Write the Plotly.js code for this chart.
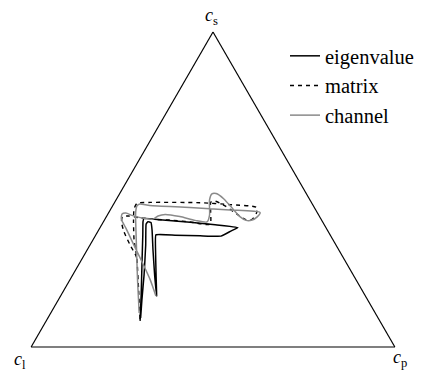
<!DOCTYPE html>
<html>
<head>
<meta charset="utf-8">
<script src="https://cdn.plot.ly/plotly-3.0.1.min.js"></script>
<style>
  html, body { margin: 0; padding: 0; background: #fff; }
  #chart { width: 422px; height: 373px; }
</style>
</head>
<body>
<div id="chart"></div>
<script>
// Westin shape measures (c_s spherical, c_l linear, c_p planar) along three trajectories.

// eigenvalue interpolation
const eigCs = [0.083, 0.165, 0.276, 0.356, 0.397, 0.408, 0.404, 0.396, 0.388, 0.379, 0.368, 0.352, 0.353, 0.355,
               0.356, 0.308, 0.229, 0.162, 0.229, 0.308, 0.371, 0.395, 0.398, 0.390, 0.324, 0.229, 0.149, 0.092];
const eigCl = [0.659, 0.615, 0.557, 0.515, 0.494, 0.486, 0.444, 0.365, 0.300, 0.242, 0.267, 0.302, 0.359, 0.427,
               0.479, 0.504, 0.542, 0.574, 0.546, 0.511, 0.482, 0.473, 0.480, 0.489, 0.523, 0.575, 0.621, 0.653];
const eigCp = [0.258, 0.220, 0.167, 0.129, 0.109, 0.106, 0.152, 0.239, 0.312, 0.379, 0.365, 0.346, 0.288, 0.218,
               0.165, 0.188, 0.229, 0.264, 0.225, 0.181, 0.147, 0.132, 0.122, 0.121, 0.153, 0.196, 0.230, 0.255];

// matrix interpolation
const matCs = [0.089, 0.181, 0.283, 0.340, 0.403, 0.438, 0.456, 0.459, 0.458, 0.452, 0.443, 0.425, 0.405, 0.405,
               0.422, 0.448, 0.463, 0.460, 0.429, 0.390, 0.397, 0.403, 0.405, 0.410, 0.416, 0.414, 0.397, 0.365,
               0.324, 0.289, 0.270];
const matCl = [0.656, 0.614, 0.568, 0.547, 0.517, 0.498, 0.481, 0.443, 0.307, 0.227, 0.158, 0.168, 0.190, 0.209,
               0.223, 0.243, 0.263, 0.276, 0.292, 0.313, 0.365, 0.417, 0.454, 0.495, 0.525, 0.542, 0.553, 0.562,
               0.566, 0.567, 0.574];
const matCp = [0.255, 0.205, 0.149, 0.113, 0.080, 0.064, 0.063, 0.098, 0.235, 0.321, 0.399, 0.407, 0.405, 0.386,
               0.355, 0.309, 0.274, 0.264, 0.279, 0.297, 0.238, 0.180, 0.141, 0.095, 0.059, 0.044, 0.050, 0.073,
               0.110, 0.144, 0.156];

// channel interpolation
const chaCs = [0.162, 0.213, 0.270, 0.330, 0.375, 0.406, 0.422, 0.425, 0.417, 0.408, 0.406, 0.416, 0.421, 0.414,
               0.402, 0.397, 0.419, 0.467, 0.486, 0.487, 0.470, 0.441, 0.414, 0.402, 0.403, 0.413, 0.427, 0.435,
               0.443, 0.449, 0.454, 0.449, 0.429, 0.340, 0.213, 0.108];
const chaCl = [0.576, 0.566, 0.560, 0.555, 0.551, 0.549, 0.539, 0.527, 0.512, 0.483, 0.462, 0.443, 0.421, 0.384,
               0.348, 0.318, 0.300, 0.276, 0.260, 0.248, 0.235, 0.227, 0.219, 0.208, 0.191, 0.172, 0.157, 0.236,
               0.342, 0.449, 0.474, 0.484, 0.498, 0.541, 0.601, 0.649];
const chaCp = [0.262, 0.221, 0.170, 0.115, 0.074, 0.045, 0.039, 0.048, 0.071, 0.109, 0.132, 0.141, 0.158, 0.202,
               0.250, 0.285, 0.281, 0.257, 0.254, 0.265, 0.295, 0.332, 0.367, 0.390, 0.406, 0.415, 0.416, 0.329,
               0.215, 0.102, 0.072, 0.067, 0.073, 0.119, 0.186, 0.243];

const seriesNames = ['eigenvalue', 'matrix', 'channel'];
const cornerLabels = ['<i>c</i><sub>s</sub>', '<i>c</i><sub>l</sub>', '<i>c</i><sub>p</sub>'];

const SERIF = 'Liberation Serif, Times New Roman, Times, DejaVu Serif, serif';

function trace(name, cs, cl, cp, line) {
  return {
    type: 'scatterternary', mode: 'lines', name: name,
    a: cs, b: cl, c: cp,
    line: line, hoverinfo: 'skip'
  };
}

const data = [
  trace(seriesNames[0], eigCs, eigCl, eigCp, {color: '#000000', width: 1.5, shape: 'spline', smoothing: 0.3}),
  trace(seriesNames[1], matCs, matCl, matCp, {color: '#000000', width: 1.4, dash: '4px,4px', shape: 'spline', smoothing: 0.6}),
  trace(seriesNames[2], chaCs, chaCl, chaCp, {color: '#8a8a8a', width: 1.5, shape: 'spline', smoothing: 0.6})
];

const hiddenAxis = {
  showgrid: false, showticklabels: false, ticks: '',
  linecolor: '#000000', linewidth: 1.2,
  title: {text: ''}
};

const W = 422, H = 373;

const layout = {
  width: W, height: H,
  margin: {l: 0, r: 0, t: 0, b: 0},
  paper_bgcolor: '#ffffff',
  font: {family: SERIF, color: '#000000'},
  ternary: {
    sum: 1,
    bgcolor: '#ffffff',
    domain: {x: [31 / W, 395 / W], y: [1 - 347 / H, 1 - 32 / H]},
    aaxis: hiddenAxis,
    baxis: hiddenAxis,
    caxis: hiddenAxis
  },
  showlegend: true,
  legend: {
    x: 285 / W, xanchor: 'left',
    y: 1 - 36 / H, yanchor: 'top',
    bgcolor: 'rgba(0,0,0,0)', borderwidth: 0,
    font: {family: SERIF, size: 20.5, color: '#000000'}
  },
  annotations: [
    {text: cornerLabels[0], xref: 'paper', yref: 'paper', x: 211 / W, y: 1 - 16 / H,
     xanchor: 'center', yanchor: 'middle', showarrow: false, font: {family: SERIF, size: 18}},
    {text: cornerLabels[1], xref: 'paper', yref: 'paper', x: 20 / W, y: 1 - 360 / H,
     xanchor: 'center', yanchor: 'middle', showarrow: false, font: {family: SERIF, size: 18}},
    {text: cornerLabels[2], xref: 'paper', yref: 'paper', x: 400 / W, y: 1 - 358 / H,
     xanchor: 'center', yanchor: 'middle', showarrow: false, font: {family: SERIF, size: 18}}
  ]
};

Plotly.newPlot('chart', data, layout, {staticPlot: true, displayModeBar: false});
</script>
</body>
</html>
